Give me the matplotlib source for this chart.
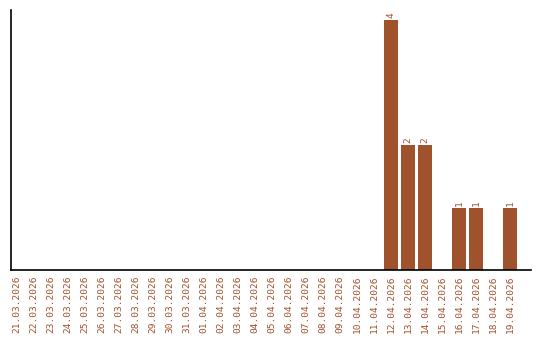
import datetime as dt

import matplotlib

matplotlib.use("Agg")
import matplotlib.pyplot as plt

start = dt.date(2026, 3, 21)
dates = [(start + dt.timedelta(days=i)).strftime("%d.%m.%Y") for i in range(30)]
counts = [0] * 22 + [4, 2, 2, 0, 1, 1, 0, 1]

BAR_COLOR = "#a0522d"
FONT = "DejaVu Sans Mono"

fig = plt.figure(figsize=(5.4, 3.4), dpi=100)
ax = fig.add_axes([10.5 / 540, 70 / 340, 520 / 540, 260 / 340])

x = list(range(len(dates)))
bars = ax.bar(x, counts, width=0.82, color=BAR_COLOR)
for xi, c in zip(x, counts):
    if c > 0:
        ax.text(xi, c + 0.03, str(c), rotation=90, ha="center", va="bottom",
                color=BAR_COLOR, family=FONT, fontsize=6.8)

ax.set_xlim(-0.38, 30.2)
ax.set_ylim(0, 4.16)
ax.set_xticks(x)
ax.set_xticklabels(dates, rotation=90, color=BAR_COLOR, family=FONT, fontsize=6.8)
ax.tick_params(axis="x", length=0, pad=4)
ax.set_yticks([])
ax.spines["top"].set_visible(False)
ax.spines["right"].set_visible(False)
ax.spines["left"].set_linewidth(1.2)
ax.spines["bottom"].set_linewidth(1.2)

fig.savefig("out.png", dpi=100)
